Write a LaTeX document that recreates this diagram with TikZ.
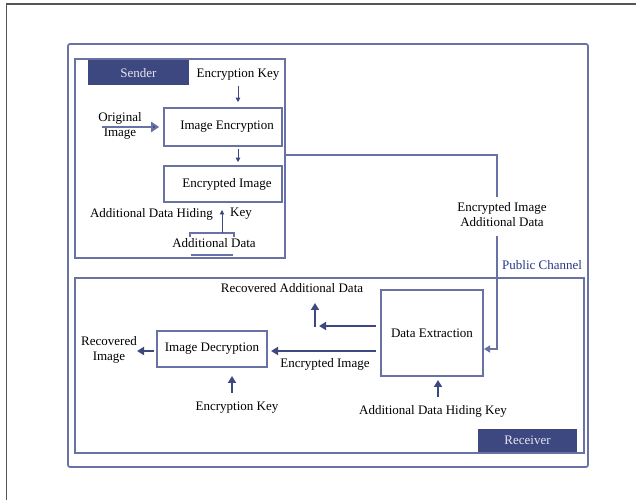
\documentclass[tikz,border=0pt]{standalone}
\usepackage{fontspec}
\setmainfont{Liberation Serif}
\usetikzlibrary{arrows.meta,calc}
\definecolor{framec}{RGB}{105,114,165}
\definecolor{arrc}{RGB}{62,72,128}
\definecolor{tagfill}{RGB}{62,72,128}
\definecolor{tagtext}{RGB}{228,230,240}
\definecolor{pubc}{RGB}{40,55,130}
\definecolor{pagec}{RGB}{85,85,85}
\tikzset{
  x=1pt,y=1pt,
  txt/.style={font=\fontsize{13}{15}\selectfont, inner sep=0pt, align=center},
  box/.style={draw=framec, line width=1.6pt, fill=white, inner sep=0pt, font=\fontsize{13}{15}\selectfont},
  tag/.style={fill=tagfill, inner sep=0pt, text=tagtext, font=\fontsize{13}{15}\selectfont},
  thinarr/.style={draw=arrc, line width=0.9pt, -{Triangle[width=4.5pt,length=4.5pt]}},
  thickarr/.style={draw=arrc, line width=1.8pt, -{Triangle[width=8pt,length=7pt]}},
  chan/.style={draw=framec, line width=1.5pt},
}
\begin{document}
\begin{tikzpicture}
\useasboundingbox (0,0) rectangle (636,500);
% page edge
\draw[pagec, line width=1.5pt] (6.5,0) -- (6.5,496) -- (636,496);
% outer frame
\draw[framec, line width=1.7pt, rounded corners=2pt] (68,33) rectangle (588,456);
% sender / receiver frames
\node[box, minimum width=210pt, minimum height=199pt, fill=none] (sender) at (180,341.5) {};
\node[box, minimum width=509pt, minimum height=175pt, fill=none] (receiver) at (329.5,134.5) {};
% tags
\node[tag, minimum width=101pt, minimum height=25pt] (sendertag) at (138.5,427) {Sender};
\node[tag, minimum width=99pt, minimum height=23pt] (receivertag) at (527.5,59.5) {Receiver};

% ---------- sender ----------
\node[txt] (ekey) at (238,425) {Encryption Key};
\node[box, minimum width=118pt, minimum height=38pt] (enc) at (223,373) {\hspace*{8pt}Image Encryption};
\node[box, minimum width=118pt, minimum height=36pt] (encimg) at (223,316) {\hspace*{8pt}Encrypted Image};
\node[txt] (orig) at (120,374) {Original\\Image};
\coordinate (origstart) at (102,373);
\draw[draw=framec, line width=2.2pt, -{Triangle[width=10pt,length=8pt,fill=arrc]}, shorten >=4pt] (origstart) -- (enc.west |- origstart);
\draw[thinarr, shorten <=5pt, shorten >=5pt] (ekey.south -| 238,0) -- (enc.north -| 238,0);
\draw[thinarr, shorten <=2pt, shorten >=3pt] (enc.south -| 238,0) -- (encimg.north -| 238,0);
\node[txt, anchor=east] (adhk) at (213,286) {Additional Data Hiding};
\node[txt] (key1) at (241,286) {Key};
\node[txt] (adata) at (214,257) {Additional Data};
\coordinate (brk) at (222,267);
\draw[framec, line width=1.3pt] (190,263) -- (190,267) -- (234,267) -- (234,263);
\draw[framec, line width=2pt] (191,245) -- (233,245);
\draw[thinarr] (brk) -- (222,290);

% ---------- channel ----------
\node[txt] (chlab) at (502,285) {Encrypted Image\\Additional Data};
\coordinate (chtop) at (497,345);
\coordinate (chin) at (484,151);
\draw[chan] (sender.east |- chtop) -- (chtop) -- (chtop |- 0,303);
\draw[chan, -{Triangle[width=7pt,length=6pt]}] (chtop |- 0,264) -- (chtop |- chin) -- (chin);
\node[txt, text=pubc, anchor=west] (pub) at (502,235) {Public Channel};

% ---------- receiver ----------
\node[box, line width=1.9pt, minimum width=102pt, minimum height=86pt] (dx) at (432,167) {Data Extraction};
\node[box, line width=1.9pt, minimum width=110pt, minimum height=36pt] (dec) at (212,151) {Image Decryption};
\node[txt] (recimg) at (109,150.5) {Recovered\\Image};
\node[txt] (radata) at (292,212) {Recovered Additional Data};
\node[txt] (eimg2) at (325,136) {Encrypted Image};
\node[txt] (ekey2) at (237,92) {Encryption Key};
\node[txt] (adhk2) at (433,89) {Additional Data Hiding Key};

\coordinate (ra1) at (319,174);
\draw[thickarr, shorten <=4pt] (dx.west |- ra1) -- (ra1);
\draw[thickarr] (315,173) -- (315,197);
\coordinate (ei) at (271,149);
\draw[thickarr, shorten <=4pt] (dx.west |- ei) -- (ei);
\draw[thickarr] (154,149) -- (137,149);
\draw[thickarr] (232,107) -- (232,124);
\draw[thickarr] (438,103) -- (438,120);
\end{tikzpicture}
\end{document}
